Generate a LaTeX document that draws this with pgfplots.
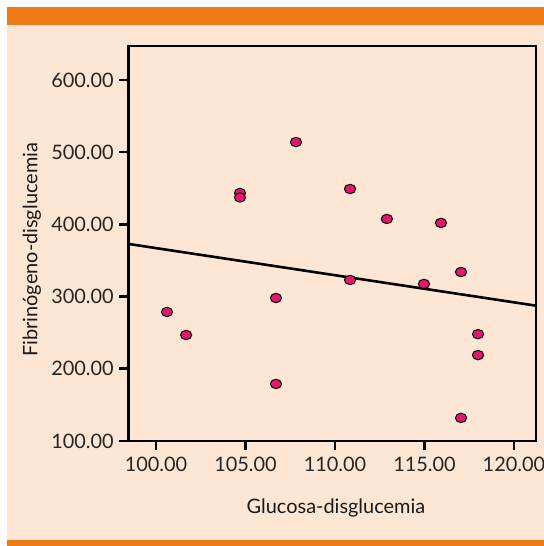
\documentclass[border=0pt]{standalone}
\usepackage{pgfplots}
\pgfplotsset{compat=1.18}
\usepackage{fontspec}
\setmainfont{Lato}
\definecolor{orangebar}{HTML}{EF7B16}
\definecolor{peach}{HTML}{FDE6D4}
\definecolor{dotpink}{HTML}{E2186E}
\begin{document}
\begin{tikzpicture}
% background (1px = 1bp; axis lower-left at pixel (128.5,441))
\fill[white] (-128.5bp,-105bp) rectangle (415.5bp,441bp);
\fill[peach] (-121.5bp,-105bp) rectangle (415.5bp,416bp);
\fill[orangebar] (-121.5bp,416bp) rectangle (415.5bp,434bp);
\fill[orangebar] (-121.5bp,-105bp) rectangle (415.5bp,-99bp);
\begin{axis}[
  at={(0,0)}, anchor=south west,
  scale only axis,
  width=407.5bp, height=395bp,
  xmin=98.46, xmax=121.23,
  ymin=100, ymax=647,
  xtick={100,105,110,115,120},
  ytick={100,200,300,400,500,600},
  xticklabels={100.00,105.00,110.00,115.00,120.00},
  yticklabels={100.00,200.00,300.00,400.00,500.00,600.00},
  tick align=outside,
  major tick length=9bp,
  every tick/.style={black, line width=2.6bp},
  every axis/.append style={line width=2.8bp},
  axis line style={black, line width=2.8bp},
  axis background/.style={fill=peach},
  xtick pos=bottom, ytick pos=left,
  tick label style={font=\fontsize{20}{24}\selectfont, text=black!85},
  xticklabel style={yshift=-2bp},
  yticklabel style={xshift=-1bp},
  /pgf/number format/assume math mode=true,
  xlabel={Glucosa-disglucemia},
  ylabel={Fibrinógeno-disglucemia},
  label style={font=\fontsize{20}{24}\selectfont, text=black!90},
  xlabel style={at={(axis description cs:0.509,-0.170)}, anchor=center},
  ylabel style={at={(axis description cs:-0.237,0.484)}, anchor=center},
]
\addplot[black, line width=2.6bp, forget plot] coordinates {(98.46,372.9) (121.23,287.4)};
\addplot[only marks, mark=*, mark size=4.7bp,
  mark options={fill=dotpink, draw=black, line width=1bp, xscale=1.2}]
  coordinates {
  (100.61,278.7)
  (101.68,246.8)
  (104.69,443.5)
  (104.69,437.3)
  (107.82,514.0)
  (106.70,298.0)
  (106.70,179.0)
  (110.84,449.0)
  (110.84,323.0)
  (112.90,407.5)
  (114.97,317.5)
  (115.92,402.0)
  (117.04,334.0)
  (117.99,248.0)
  (117.99,219.0)
  (117.04,132.0)
  };
\end{axis}
\pgfresetboundingbox
\path[use as bounding box] (-128.5bp,-105bp) rectangle (415.5bp,441bp);
\end{tikzpicture}
\end{document}
